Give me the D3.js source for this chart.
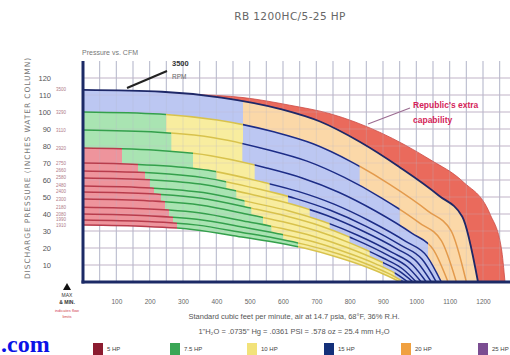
<!DOCTYPE html>
<html>
<head>
<meta charset="UTF-8">
<title>RB 1200HC/5-25 HP</title>
<style>
  body { margin: 0; background: #fff; }
  svg { display: block; font-family: 'Liberation Sans', Arial, sans-serif; }
</style>
</head>
<body>
<div id="app"></div>
<script src="https://d3js.org/d3.v7.min.js"></script>
<script>
  // pressure curves: [cfm, inches water column]
  let c3500 = [[0,113],[237,111.9],[415,108.5],[593,101.7],[711,94.4],[830,82.5],[948,67.8],[1067,50.9],[1138,38.4],[1185,0]]
  let c3290 = [[0,100],[230,98.8],[403,95.3],[575,88.2],[690,81.3],[805,70.7],[920,57.4],[1035,41.7],[1104,30.2],[1150,0]]
  let c3110 = [[0,89.4],[224,88.1],[392,84.8],[560,77.5],[672,71.1],[784,61.5],[896,49.4],[1008,34.9],[1075,24.3],[1120,0]]
  let c2920 = [[0,78.8],[219,77.5],[383,74.3],[548,67.2],[657,61.2],[767,52.8],[876,41.9],[986,28.7],[1051,19.0],[1095,0]]
  let c2750 = [[0,70],[215,68.7],[376,65.7],[538,58.8],[645,53.3],[753,45.8],[860,35.9],[968,23.9],[1032,15.1],[1075,0]]
  let c2660 = [[0,65.3],[212,64.1],[371,61.1],[530,54.5],[636,49.2],[742,42.2],[848,32.9],[954,21.5],[1018,13.2],[1060,0]]
  let c2580 = [[0,61.2],[209,60.0],[366,57.2],[523,50.7],[627,45.7],[732,39.1],[836,30.3],[941,19.6],[1003,11.6],[1045,0]]
  let c2480 = [[0,56.5],[206,55.3],[361,52.6],[515,46.4],[618,41.8],[721,35.6],[824,27.5],[927,17.4],[989,10.0],[1030,0]]
  let c2400 = [[0,53],[203,51.9],[355,49.3],[508,43.3],[609,38.8],[711,33.1],[812,25.4],[914,15.8],[974,8.8],[1015,0]]
  let c2300 = [[0,48.8],[200,47.7],[350,45.3],[500,39.6],[600,35.4],[700,30.1],[800,23.0],[900,14.1],[960,7.5],[1000,0]]
  let c2180 = [[0,44],[198,43.0],[347,40.7],[495,35.4],[594,31.6],[693,26.8],[792,20.3],[891,12.2],[950,6.2],[990,0]]
  let c2080 = [[0,40],[195,39.0],[341,36.9],[488,32.0],[585,28.4],[683,24.1],[780,18.1],[878,10.7],[936,5.2],[975,0]]
  let c1990 = [[0,36.5],[192,35.6],[337,33.6],[481,29.0],[577,25.7],[673,21.7],[770,16.3],[866,9.4],[924,4.3],[962,0]]
  let c1910 = [[0,33.5],[190,32.7],[333,30.8],[476,26.5],[571,23.5],[666,19.8],[761,14.7],[856,8.4],[913,3.7],[951,0]]

  let curves = [c3500, c3290, c3110, c2920, c2750, c2660, c2580, c2480, c2400, c2300, c2180, c2080, c1990, c1910]
  let rpmLabels = ['3500', '3290', '3110', '2920', '2750', '2660', '2580', '2480', '2400', '2300', '2180', '2080', '1990', '1910']

  // outer edge of "Republic's extra capability"
  let extraEdge = [[330,110.3],[480,108.5],[620,104],[741,99],[891,88],[1041,72],[1140,59],[1221,40],[1255,20],[1266,0]]

  let hpZones = ['5 HP', '7.5 HP', '10 HP', '15 HP', '20 HP', '25 HP']

  // horsepower zone along each band between two curves: [zone index, start cfm]
  let band1 = [[3,0],[4,480]]
  let band2 = [[1,0],[2,249],[3,480],[4,830]]
  let band3 = [[1,0],[2,265],[3,478],[4,950]]
  let band4 = [[0,0],[1,117],[2,330],[3,515],[4,1035]]
  let band5 = [[0,0],[1,165],[2,400],[3,560]]
  let band6 = [[0,0],[1,186],[2,430],[3,615]]
  let band7 = [[0,0],[1,201],[2,460],[3,680]]
  let band8 = [[0,0],[1,213],[2,485],[3,740]]
  let band9 = [[0,0],[1,234],[2,505],[3,800]]
  let band10 = [[0,0],[1,246],[2,540],[3,860]]
  let band11 = [[0,0],[1,258],[2,565],[3,900]]
  let band12 = [[0,0],[1,270],[2,600],[3,935]]
  let band13 = [[0,0],[1,282],[2,645],[3,955]]
  let bands = [band1, band2, band3, band4, band5, band6, band7, band8, band9, band10, band11, band12, band13]

  let xTicks = [100, 200, 300, 400, 500, 600, 700, 800, 900, 1000, 1100, 1200]
  let yTicks = [10, 20, 30, 40, 50, 60, 70, 80, 90, 100, 110, 120]

  let W = 510
  let H = 355
  let zoneFill = ['#ee949c', '#a9e4b2', '#f8ed9f', '#bcc7f2', '#fbd8a8', '#cdb5e0']
  let zoneLine = ['#b83c4c', '#34a04c', '#d8c24c', '#1c2c86', '#e39a4c', '#7b4d92']
  let swatch = ['#8c1c30', '#3aa655', '#f2e27a', '#14307a', '#f0a040', '#7b4d92']

  let svg = d3.select('#app').append('svg')
    .attr('width', W)
    .attr('height', H)

  let defs = svg.append('defs')

  let x = d3.scaleLinear().domain([0, 1281]).range([83, 510])
  let y = d3.scaleLinear().domain([0, 130]).range([282, 61])

  defs.append('clipPath').attr('id', 'plot').append('rect')
    .attr('x', 83).attr('y', 61).attr('width', W - 83).attr('height', 282 - 61)

  let clipN = 0
  function clipFor(q0, q1) {
    let id = 'seg' + (clipN++)
    defs.append('clipPath').attr('id', id).append('rect')
      .attr('x', x(q0)).attr('y', 0)
      .attr('width', x(q1) - x(q0)).attr('height', H)
    return 'url(#' + id + ')'
  }

  let line = d3.line()
    .x(d => x(d[0]))
    .y(d => y(d[1]))
    .curve(d3.curveMonotoneX)

  function bandPath(upper, lower) {
    return line(upper) + line(lower.slice().reverse()).replace(/^M/, 'L') + 'Z'
  }

  function drawGrid(g, opacity) {
    g.selectAll('.vg').data(d3.range(50, 1300, 50)).enter()
      .append('line')
      .attr('x1', d => x(d)).attr('x2', d => x(d))
      .attr('y1', y(130)).attr('y2', y(0))
      .attr('stroke', '#b3b6ca').attr('stroke-width', 0.9)
      .attr('opacity', opacity)
    g.selectAll('.hg').data(yTicks).enter()
      .append('line')
      .attr('x1', x(0)).attr('x2', W)
      .attr('y1', d => y(d)).attr('y2', d => y(d))
      .attr('stroke', '#c4b8c9').attr('stroke-width', 0.9)
      .attr('opacity', opacity)
  }

  // title
  svg.append('text')
    .attr('x', 290).attr('y', 20)
    .attr('text-anchor', 'middle')
    .style('font-family', 'DejaVu Sans, sans-serif')
    .style('font-size', '10.5px')
    .style('letter-spacing', '0.4px')
    .attr('fill', '#666')
    .text('RB 1200HC/5-25 HP')

  drawGrid(svg.append('g'), 1)

  let plot = svg.append('g').attr('clip-path', 'url(#plot)')

  // extra capability band above the top curve
  let lowerEdge = [extraEdge[0]].concat(c3500.filter(d => d[0] > extraEdge[0][0]))
  plot.append('path')
    .attr('d', bandPath(extraEdge, lowerEdge))
    .attr('fill', '#ea6a5c')
    .attr('stroke', '#cc4a44')
    .attr('stroke-width', 0.8)

  // coloured bands
  bands.forEach((segs, i) => {
    let d = bandPath(curves[i], curves[i + 1])
    segs.forEach((s, j) => {
      let end = j < segs.length - 1 ? segs[j + 1][1] + 2 : 1300
      plot.append('path')
        .attr('d', d)
        .attr('fill', zoneFill[s[0]])
        .attr('clip-path', clipFor(s[1], end))
    })
  })

  // faint grid showing through the fills
  drawGrid(plot.append('g'), 0.3)

  // curve lines, coloured by the zone just below them
  curves.forEach((c, i) => {
    if (i === 0) return
    let segs = bands[Math.min(i, bands.length - 1)]
    segs.forEach((s, j) => {
      let end = j < segs.length - 1 ? segs[j + 1][1] : 1300
      plot.append('g').attr('clip-path', clipFor(s[1], end))
        .append('path')
        .attr('d', line(c))
        .attr('fill', 'none')
        .attr('stroke', zoneLine[s[0]])
        .attr('stroke-width', 1.5)
    })
  })
  plot.append('path')
    .attr('d', line(c3500))
    .attr('fill', 'none')
    .attr('stroke', '#1e2868')
    .attr('stroke-width', 1.8)

  // axes frame
  svg.append('line')
    .attr('x1', x(0)).attr('x2', x(0)).attr('y1', y(130)).attr('y2', y(0) + 1.5)
    .attr('stroke', '#1c2a66').attr('stroke-width', 3)
  svg.append('line')
    .attr('x1', x(0) - 1.5).attr('x2', W).attr('y1', y(0)).attr('y2', y(0))
    .attr('stroke', '#1c2a66').attr('stroke-width', 3)

  // tick labels
  let xAxis = svg.append('g')
    .attr('transform', 'translate(0,' + (y(0) + 17) + ')')
    .call(d3.axisBottom(x).tickValues(xTicks).tickFormat(d3.format('d')).tickSize(0).tickPadding(0))
  xAxis.select('.domain').remove()
  xAxis.selectAll('text').style('font-size', '6.5px').attr('fill', '#666')

  let yAxis = svg.append('g')
    .attr('transform', 'translate(51,0)')
    .call(d3.axisLeft(y).tickValues(yTicks).tickSize(0).tickPadding(0))
  yAxis.select('.domain').remove()
  yAxis.selectAll('text').style('font-size', '7.5px').attr('fill', '#555').attr('dy', '0.35em')

  // rpm labels at the left end of each curve
  svg.selectAll('.rpm').data(curves).enter()
    .append('text')
    .attr('x', 56)
    .attr('y', d => y(d[0][1]) + 1.5)
    .style('font-size', '4.5px')
    .attr('fill', '#b07a88')
    .text((d, i) => rpmLabels[i])

  // y title
  svg.append('text')
    .attr('transform', 'translate(30,168) rotate(-90)')
    .attr('text-anchor', 'middle')
    .style('font-family', 'DejaVu Sans, sans-serif')
    .style('font-size', '7.5px')
    .style('letter-spacing', '0.9px')
    .attr('fill', '#777')
    .text('DISCHARGE PRESSURE (INCHES WATER COLUMN)')

  svg.append('text')
    .attr('x', 82).attr('y', 55)
    .style('font-size', '7px')
    .attr('fill', '#777')
    .text('Pressure vs. CFM')

  // top curve annotation
  svg.append('line')
    .attr('x1', 127).attr('y1', 88).attr('x2', 167).attr('y2', 71)
    .attr('stroke', '#222').attr('stroke-width', 2)
  svg.append('text')
    .attr('x', 172).attr('y', 66)
    .style('font-size', '7.5px').style('font-weight', 'bold')
    .attr('fill', '#333')
    .text('3500')
  svg.append('text')
    .attr('x', 172).attr('y', 79)
    .style('font-size', '6.5px')
    .attr('fill', '#666')
    .text('RPM')

  // extra capability annotation
  svg.append('line')
    .attr('x1', 368).attr('y1', 124).attr('x2', 410).attr('y2', 108)
    .attr('stroke', '#9a6a90').attr('stroke-width', 1.2)
  svg.append('text')
    .attr('x', 413).attr('y', 108)
    .style('font-size', '8.5px').style('font-weight', 'bold')
    .attr('fill', '#d41e5a')
    .text("Republic's extra")
  svg.append('text')
    .attr('x', 413).attr('y', 123)
    .style('font-size', '8.5px').style('font-weight', 'bold')
    .attr('fill', '#d41e5a')
    .text('capability')

  // x title
  svg.append('text')
    .attr('x', 294).attr('y', 319)
    .attr('text-anchor', 'middle')
    .style('font-size', '7.5px')
    .attr('fill', '#555')
    .text('Standard cubic feet per minute, air at 14.7 psia, 68°F, 36% R.H.')
  svg.append('text')
    .attr('x', 294).attr('y', 334)
    .attr('text-anchor', 'middle')
    .style('font-size', '7.5px')
    .attr('fill', '#555')
    .text('1"H₂O = .0735" Hg = .0361 PSI = .578 oz = 25.4 mm H₂O')

  // bottom-left marker
  svg.append('path')
    .attr('d', 'M67,283 L71,290 L63,290 Z')
    .attr('fill', '#111')
  svg.append('text').attr('x', 67).attr('y', 297).attr('text-anchor', 'middle')
    .style('font-size', '5px').attr('fill', '#333').text('MAX')
  svg.append('text').attr('x', 67).attr('y', 304).attr('text-anchor', 'middle')
    .style('font-size', '5px').style('font-weight', 'bold').attr('fill', '#333').text('& MIN.')
  svg.append('text').attr('x', 67).attr('y', 312).attr('text-anchor', 'middle')
    .style('font-size', '4px').attr('fill', '#d04050').text('indicates flow')
  svg.append('text').attr('x', 67).attr('y', 318).attr('text-anchor', 'middle')
    .style('font-size', '4px').attr('fill', '#d04050').text('limits')

  // legend
  let legend = svg.selectAll('.lg').data(hpZones).enter()
    .append('g')
    .attr('transform', (d, i) => 'translate(' + (93 + i * 77) + ',343)')
  legend.append('rect')
    .attr('width', 10).attr('height', 12)
    .attr('fill', (d, i) => swatch[i])
  legend.append('text')
    .attr('x', 14).attr('y', 8)
    .style('font-size', '6px')
    .attr('fill', '#444')
    .text(d => d)

  // watermark
  svg.append('text')
    .attr('x', 1).attr('y', 352)
    .style('font-family', 'Liberation Serif, serif')
    .style('font-size', '24px').style('font-weight', 'bold')
    .attr('fill', '#0a12e6')
    .text('.com')
</script>
</body>
</html>
